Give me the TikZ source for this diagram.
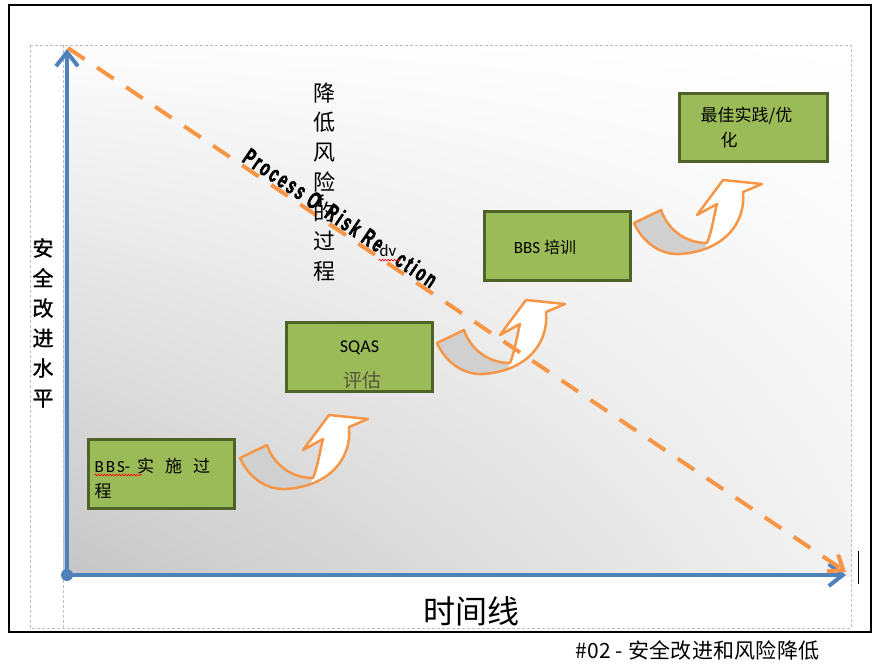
\documentclass[tikz,border=0pt]{standalone}
\usepackage{fontspec}
\setmainfont{Carlito}
\newfontfamily\cjk{Noto Sans CJK SC}
\newfontfamily\cjkheavy{Noto Sans CJK SC}[FakeBold=1.2]
\newfontfamily\cjkwide{Noto Sans CJK SC}[LetterSpace=1.5]
\newfontfamily\procfont{Liberation Sans}[FakeStretch=0.6,LetterSpace=10,FakeBold=2]
\usepackage{tikz}
\usetikzlibrary{arrows.meta,positioning,calc,shadings,decorations.pathmorphing}

\definecolor{axisblue}{HTML}{4F81BD}
\definecolor{riskorange}{HTML}{F79646}
\definecolor{stagefill}{HTML}{9BBB59}
\definecolor{stageline}{HTML}{4F6228}
\definecolor{bandgray}{HTML}{D0D0D0}
\definecolor{framegray}{HTML}{BFBFBF}
\definecolor{evaltext}{HTML}{55553C}

\def\stepupoutline{(0,0) -- (27,-13) .. controls (33,5) and (50,20) .. (73,20)
  .. controls (78,8) and (80,-8) .. (83,-19) -- (63,-8) -- (89,-43) -- (128,-39) -- (109,-31)
  .. controls (112,0) and (90,28) .. (46,31) .. controls (25,32) and (8,18) .. (0,0) -- cycle}

\tikzset{
  stepup/.pic={
    \fill[white] \stepupoutline;
    \fill[bandgray] (0,0) -- (27,-13) .. controls (33,5) and (50,20) .. (73,20) -- (70,26.5)
      .. controls (63,28.9) and (54.8,30.4) .. (46,31) .. controls (25,32) and (8,18) .. (0,0) -- cycle;
    \draw[riskorange, line width=2.5pt, line join=round] \stepupoutline;
  }
}

\begin{document}
\begin{tikzpicture}[x=1pt,y=-1pt,
   stage/.style={draw=stageline, fill=stagefill, line width=3pt, minimum width=146pt, minimum height=69pt, inner sep=0pt},
   boxtext/.style={inner sep=0pt, font=\fontsize{17}{20}\selectfont},
   vlabel/.style={inner sep=0pt, align=center, font=\cjk\fontsize{22}{29.7}\selectfont},
   axis/.style={axisblue, line width=4pt, -{Straight Barb[length=14pt,width=22pt]}},
   risk/.style={riskorange, line width=4pt, dash pattern=on 20pt off 15pt, -{Straight Barb[length=13pt,width=20pt]}},
   spell/.style={draw=red, line width=0.6pt, decorate, decoration={snake, amplitude=0.9pt, segment length=3pt}}]
   \useasboundingbox (0,0) rectangle (882,667);
   \fill[white] (0,0) rectangle (882,667);
   \shade[upper left=gray!2, upper right=white, lower left=gray!45, lower right=gray!10] (63,45) rectangle (851,576);
   \draw[framegray, line width=0.6pt, dash pattern=on 3pt off 2pt] (30,45) rectangle (851,628) (63,45) -- (63,628);
   \draw[line width=1.5pt] (9,5) rectangle (871,632);

   \coordinate (origin) at (67,575);
   \coordinate (ytop) at (67,49);
   \coordinate (xend) at (846,575);
   \draw[axis] (origin) -- (ytop);
   \draw[axis] (origin) -- (xend);
   \fill[axisblue] (origin) circle[radius=6pt];
   \draw[line width=1pt] (858,551) -- (858,584);

   \path   (161.5,474)  node (impl)  [stage] {}
           (359.5,356.5) node (sqas) [stage] {}
           (557,245.5)  node (train) [stage] {}
           (753.5,127.5) node (best) [stage, minimum width=148pt, minimum height=68pt] {};

   \pic at (240,458) {stepup};
   \pic at (437,343) {stepup};
   \pic at (634,223) {stepup};

   \coordinate (riskstart) at (68,48);
   \coordinate (riskend) at (846,572);
   \draw[risk] (riskstart) -- (riskend);

   \node[boxtext, anchor=base west] (impltext) at ($(impl.west)+(7.5,-2)$)
      {B\hspace{2pt}B\hspace{2pt}S-\hspace{7pt}{\cjk 实\hspace{11pt}施\hspace{11pt}过}};
   \node[boxtext, anchor=base west] (impltail) at ($(impltext.base west)+(0,25)$) {\cjk 程};
   \draw[spell] ($(impltext.base west)+(0,3)$) -- ++(47,0);

   \node[boxtext, font=\fontsize{18}{20}\selectfont] (sqasname) at ($(sqas.center)+(0,-8.5)$) {SQAS};
   \node[boxtext, text=evaltext, font=\cjk\fontsize{19}{20}\selectfont] (sqaseval) at ($(sqas.center)+(2.5,23.5)$) {评估};

   \node[boxtext] (traintext) at ($(train.center)+(-12,1.5)$) {BBS {\cjk\fontsize{16}{20}\selectfont 培训}};

   \node[boxtext, anchor=base west, font=\cjk\fontsize{17}{20}\selectfont] (besttext) at ($(best.west)+(22.5,-6)$) {最佳实践/优};
   \node[boxtext, anchor=base west, font=\cjk\fontsize{17}{20}\selectfont] (besttail) at ($(besttext.base west)+(20,25)$) {化};

   \node[vlabel] (riskword) at (324,182) {降\\低\\风\\险\\的\\过\\程};
   \node[vlabel, font=\cjkheavy\fontsize{21}{30}\selectfont] (levelword) at (43,323) {安\\全\\改\\进\\水\\平};

   \node[inner sep=0pt, rotate=-34, anchor=base west, font=\procfont\bfseries\fontsize{24}{26}\selectfont] (procname) at (241,161)
      {Process O\phantom{f} Risk Re\phantom{du}ction};
   \node[inner sep=0pt, font=\bfseries\fontsize{18}{20}\selectfont] (procf) at (321,201) {f};
   \node[inner sep=0pt, font=\fontsize{17}{20}\selectfont] (procdv) at (388,251) {dv};
   \draw[spell] ($(procdv.south west)+(-1,3)$) -- ++(22,0);

   \node[font=\cjk\fontsize{32}{36}\selectfont] (timeword) at (471,611) {时间线};
   \node[inner sep=0pt, anchor=base west, font=\cjkwide\fontsize{21}{24}\selectfont] (caption) at (575,658) {\#02 - 安全改进和风险降低};
\end{tikzpicture}
\end{document}
